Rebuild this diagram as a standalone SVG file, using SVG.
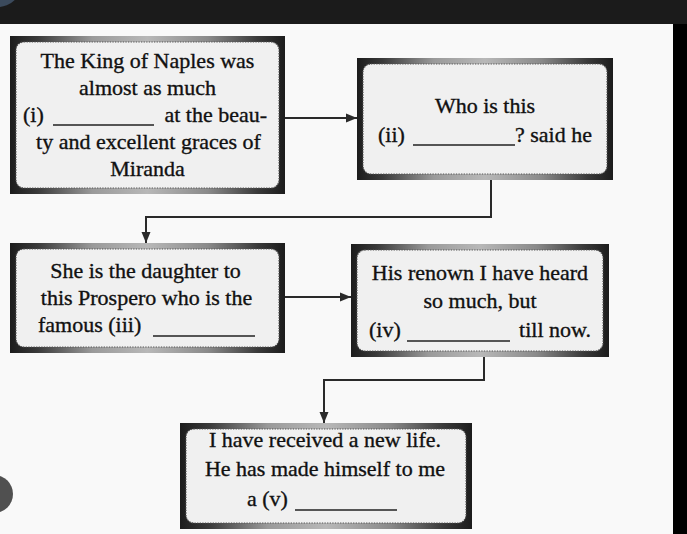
<svg xmlns="http://www.w3.org/2000/svg" width="687" height="534" viewBox="0 0 687 534">
<defs>
<linearGradient id="fr" x1="0" y1="0" x2="1" y2="0">
<stop offset="0" stop-color="#1c1c1c"/>
<stop offset="0.1" stop-color="#3a3a3a"/>
<stop offset="0.3" stop-color="#9a9a9a"/>
<stop offset="0.5" stop-color="#b8b8b8"/>
<stop offset="0.72" stop-color="#8a8a8a"/>
<stop offset="0.9" stop-color="#3a3a3a"/>
<stop offset="1" stop-color="#1c1c1c"/>
</linearGradient>
<marker id="ah" markerWidth="12" markerHeight="10" refX="11" refY="5" orient="auto" markerUnits="userSpaceOnUse">
<path d="M0,0.5 L11,5 L0,9.5 Z" fill="#2a2a2a"/>
</marker>
</defs>
<style>
.frame{fill:url(#fr)}
.inner{fill:#f0f0f0;stroke:#555;stroke-width:1.2;stroke-dasharray:1.3 1.3}
.t{font-family:"Liberation Serif","Times New Roman",serif;font-size:22px;fill:#111;stroke:#111;stroke-width:0.35}
.c{text-anchor:middle}
.e{text-anchor:end}
.ul{stroke:#222;stroke-width:1.3}
.conn{fill:none;stroke:#2a2a2a;stroke-width:2}
</style>
<rect width="687" height="534" fill="#f9f9f9"/>
<rect width="687" height="24" fill="#1b1b1b"/>
<circle cx="-3" cy="-18" r="25.3" fill="#3b4a5c"/>
<rect x="673" y="24" width="14" height="510" fill="#000"/>
<circle cx="-6" cy="494" r="19" fill="#505050"/>

<g id="connectors">
<path class="conn" d="M285,118 H357" marker-end="url(#ah)"/>
<path class="conn" d="M491,180 V217 H146 V243" marker-end="url(#ah)"/>
<path class="conn" d="M285,297 H351" marker-end="url(#ah)"/>
<path class="conn" d="M484,357 V380 H324 V423" marker-end="url(#ah)"/>
</g>

<g id="node1">
<rect class="frame" x="10" y="36" width="275" height="158"/>
<rect class="inner" x="16" y="42" width="263" height="146" rx="8"/>
<text class="t c" x="147.5" y="68">The King of Naples was</text>
<text class="t c" x="147.5" y="95">almost as much</text>
<text class="t" x="23" y="122">(i)</text>
<line class="ul" x1="53" y1="125" x2="154" y2="125"/>
<text class="t e" x="267" y="122">at the beau-</text>
<text class="t c" x="148.5" y="149">ty and excellent graces of</text>
<text class="t c" x="147.5" y="176">Miranda</text>
</g>

<g id="node2">
<rect class="frame" x="357" y="58" width="256" height="122"/>
<rect class="inner" x="363" y="64" width="244" height="110" rx="8"/>
<text class="t c" x="485" y="113">Who is this</text>
<text class="t" x="378" y="142">(ii)</text>
<line class="ul" x1="413" y1="145" x2="515" y2="145"/>
<text class="t e" x="592" y="142">? said he</text>
</g>

<g id="node3">
<rect class="frame" x="10" y="243" width="275" height="110"/>
<rect class="inner" x="16" y="249" width="263" height="98" rx="8"/>
<text class="t c" x="145.5" y="278">She is the daughter to</text>
<text class="t c" x="146.5" y="305">this Prospero who is the</text>
<text class="t" x="38" y="332">famous (iii)</text>
<line class="ul" x1="153" y1="336" x2="255" y2="336"/>
</g>

<g id="node4">
<rect class="frame" x="351" y="244" width="258" height="113"/>
<rect class="inner" x="357" y="250" width="246" height="101" rx="8"/>
<text class="t c" x="480" y="280">His renown I have heard</text>
<text class="t c" x="480" y="308">so much, but</text>
<text class="t" x="369" y="337">(iv)</text>
<line class="ul" x1="407" y1="341" x2="510" y2="341"/>
<text class="t e" x="591" y="337">till now.</text>
</g>

<g id="node5">
<rect class="frame" x="180" y="423" width="292" height="106"/>
<rect class="inner" x="186" y="429" width="280" height="94" rx="8"/>
<text class="t c" x="325" y="447">I have received a new life.</text>
<text class="t c" x="325" y="476">He has made himself to me</text>
<text class="t" x="247" y="506">a (v)</text>
<line class="ul" x1="295" y1="510" x2="397" y2="510"/>
</g>
</svg>
